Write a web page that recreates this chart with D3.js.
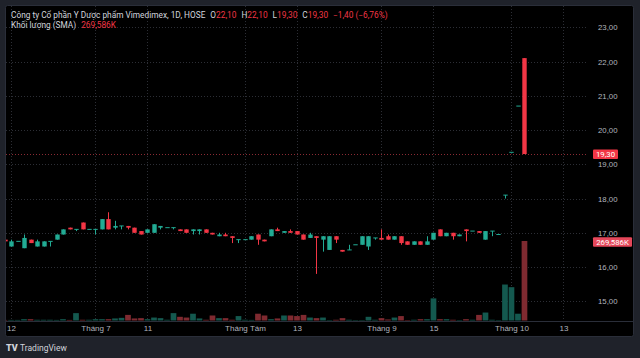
<!DOCTYPE html>
<html>
<head>
<meta charset="utf-8">
<script src="https://cdn.jsdelivr.net/npm/d3@7"></script>
<style>
html, body { margin: 0; padding: 0; background: #1f222a; }
svg { display: block; font-family: Roboto, "Liberation Sans", sans-serif; }
</style>
</head>
<body>
<div id="chart-area"></div>
<script>
// daily candles, first entry is the day before the "12" tick (index -1)
const openP  = [16.8, 16.6, 16.75, 16.55, 16.8, 16.6, 16.6, 16.75, 16.8, 16.95, 17.15, 17.1, 17.3, 17.1, 17.1, 17.1, 17.4, 17.15, 17.2, 17.2, 17.15, 17.05, 17.0, 17.0, 17.15, 17.15, 17.15, 17.1, 17.1, 17.05, 17.05, 17.1, 17.0, 16.9, 16.95, 16.9, 16.8, 16.8, 16.8, 16.95, 16.8, 16.9, 17.1, 17.0, 17.05, 17.05, 16.95, 16.85, 16.9, 16.8, 16.5, 16.9, 16.5, 16.5, 16.65, 16.65, 16.6, 16.85, 16.85, 16.9, 16.8, 16.9, 16.75, 16.65, 16.75, 16.65, 16.8, 17.1, 16.9, 17.0, 16.9, 17.1, 17.05, 17.05, 16.8, 17.05, 16.95, 18.1, 19.35, 20.7, 22.1];
const highP  = [16.8, 16.8, 16.75, 16.95, 16.8, 16.8, 16.75, 16.75, 16.95, 17.1, 17.15, 17.1, 17.3, 17.1, 17.1, 17.4, 17.6, 17.35, 17.2, 17.2, 17.15, 17.05, 17.1, 17.25, 17.2, 17.15, 17.15, 17.1, 17.1, 17.1, 17.1, 17.1, 17.0, 17.0, 17.0, 16.9, 16.8, 16.8, 16.9, 16.95, 16.8, 17.1, 17.15, 17.05, 17.1, 17.05, 16.95, 17.0, 16.9, 16.9, 16.9, 16.9, 16.5, 16.65, 16.65, 16.9, 16.9, 16.85, 17.1, 16.95, 16.9, 16.9, 16.75, 16.75, 16.75, 16.9, 17.0, 17.1, 17.0, 17.0, 16.95, 17.1, 17.05, 17.05, 17.05, 17.05, 16.95, 18.1, 19.35, 20.7, 22.1];
const lowP   = [16.75, 16.6, 16.75, 16.55, 16.7, 16.6, 16.6, 16.6, 16.8, 16.95, 17.1, 17.05, 17.1, 17.1, 16.95, 17.1, 17.1, 17.1, 17.1, 17.1, 17.0, 16.95, 17.0, 17.0, 17.1, 17.15, 17.1, 17.05, 17.0, 16.95, 16.95, 17.0, 16.95, 16.9, 16.9, 16.7, 16.7, 16.8, 16.8, 16.65, 16.75, 16.9, 17.05, 17.0, 17.0, 16.95, 16.8, 16.85, 15.8, 16.45, 16.5, 16.7, 16.45, 16.5, 16.65, 16.65, 16.5, 16.8, 16.8, 16.8, 16.8, 16.65, 16.65, 16.65, 16.65, 16.65, 16.8, 16.9, 16.9, 16.8, 16.9, 16.75, 17.05, 17.0, 16.8, 16.9, 16.95, 18.0, 19.35, 20.7, 19.3];
const closeP = [16.75, 16.75, 16.75, 16.85, 16.7, 16.75, 16.75, 16.75, 16.95, 17.1, 17.1, 17.1, 17.1, 17.1, 17.1, 17.4, 17.1, 17.2, 17.2, 17.15, 17.0, 16.95, 17.1, 17.25, 17.2, 17.15, 17.15, 17.05, 17.0, 17.1, 17.1, 17.0, 16.95, 16.95, 16.9, 16.85, 16.8, 16.8, 16.9, 16.8, 16.75, 17.1, 17.05, 17.05, 17.0, 16.95, 16.8, 16.95, 16.85, 16.9, 16.9, 16.8, 16.45, 16.5, 16.65, 16.9, 16.9, 16.85, 16.8, 16.8, 16.9, 16.7, 16.65, 16.75, 16.65, 16.75, 17.0, 16.9, 17.0, 16.9, 16.95, 17.05, 17.05, 17.0, 17.05, 17.05, 16.95, 18.1, 19.35, 20.7, 19.3];
// volume in thousands of shares
const volumeK = [2, 2, 2, 4.5, 4.5, 2.5, 2.5, 2.5, 2, 4.5, 2, 25, 2.5, 2.5, 4.5, 4.5, 4.5, 7, 9, 19, 7, 8, 4.5, 10, 8, 2.5, 25, 12.5, 10, 23, 7, 2.5, 17, 8, 8, 2.5, 15, 2.5, 2, 23, 17, 4.5, 7, 17, 17, 15, 19, 10, 8, 10, 1.5, 2.5, 8, 2.5, 1.5, 1.5, 12.5, 2.5, 8, 3.5, 10, 15, 1.5, 2.5, 4.5, 4.5, 75, 4.5, 4.5, 2.5, 1.5, 4.5, 2.5, 19, 27, 2.5, 1.5, 122, 113, 23, 269.586];
const firstDay = -1;

// time axis ticks (trading-day index) and price ticks
const tickDays = [0, 13, 21, 36, 44, 57, 65, 77, 85];
const tickLabels = ["12", "Tháng 7", "11", "Tháng Tám", "13", "Tháng 9", "15", "Tháng 10", "13"];
const priceTicks = [15, 16, 17, 18, 19, 20, 21, 22, 23];

const lastClose = 19.3;
const lastVolume = "269,586K";

const W = 640, H = 358;
const pane = { left: 6, right: 587, top: 6, bottom: 321 };
const frame = { right: 633, bottom: 336 };

const upColor = "#22ab94", downColor = "#f23645";
const upVol = "#14594f", downVol = "#7f2a30";
const textColor = "#b2b5be", gridColor = "#2c2e35";

const candles = openP.map(function(o, k) {
    return { day: k + firstDay, o: o, h: highP[k], l: lowP[k], c: closeP[k], v: volumeK[k] };
});

const svg = d3.select("#chart-area")
    .append("svg")
    .attr("width", W)
    .attr("height", H);

svg.append("rect").attr("width", W).attr("height", H).attr("fill", "#1f222a");

// black chart frame
svg.append("rect")
    .attr("x", pane.left - 0.5)
    .attr("y", pane.top - 0.5)
    .attr("width", frame.right - pane.left + 1)
    .attr("height", frame.bottom - pane.top + 1)
    .attr("rx", 2)
    .attr("fill", "#000")
    .attr("stroke", "#2a2e39");

// Scales
const x = d3.scaleLinear()
    .domain([-0.77, 88.62])
    .range([pane.left, pane.right]);

const y = d3.scaleLinear()
    .domain([15, 23])
    .range([301.3, 27.3]);

const yVol = d3.scaleLinear()
    .domain([0, d3.max(volumeK)])
    .range([pane.bottom - 0.5, 241]);

svg.append("clipPath").attr("id", "clip")
    .append("rect")
    .attr("x", pane.left).attr("y", pane.top)
    .attr("width", pane.right - pane.left).attr("height", pane.bottom - pane.top);

// Grid
const grid = svg.append("g").attr("stroke", gridColor).attr("stroke-dasharray", "1,2");
grid.selectAll(".hg").data(priceTicks).enter().append("line")
    .attr("x1", pane.left).attr("x2", pane.right)
    .attr("y1", d => Math.round(y(d)) + 0.5).attr("y2", d => Math.round(y(d)) + 0.5);
grid.selectAll(".vg").data(tickDays).enter().append("line")
    .attr("x1", d => Math.round(x(d)) + 0.5).attr("x2", d => Math.round(x(d)) + 0.5)
    .attr("y1", pane.top).attr("y2", pane.bottom);

// time axis separator
svg.append("line")
    .attr("x1", pane.left).attr("x2", frame.right)
    .attr("y1", pane.bottom + 0.5).attr("y2", pane.bottom + 0.5)
    .attr("stroke", "#2a2e39");

const plot = svg.append("g").attr("clip-path", "url(#clip)");

// Volume bars
plot.selectAll(".vol").data(candles).enter().append("rect")
    .attr("x", d => x(d.day) - 2.85)
    .attr("width", 5.7)
    .attr("y", d => yVol(d.v))
    .attr("height", d => yVol(0) - yVol(d.v))
    .attr("fill", d => d.c >= d.o ? upVol : downVol);

// last price line
plot.append("line")
    .attr("x1", pane.left).attr("x2", pane.right)
    .attr("y1", Math.round(y(lastClose)) + 0.5).attr("y2", Math.round(y(lastClose)) + 0.5)
    .attr("stroke", "#8a2a33")
    .attr("stroke-dasharray", "1,2");

// Candles
const cg = plot.selectAll(".candle").data(candles).enter().append("g");
cg.append("line")
    .attr("x1", d => Math.round(x(d.day)) + 0.5)
    .attr("x2", d => Math.round(x(d.day)) + 0.5)
    .attr("y1", d => y(d.h))
    .attr("y2", d => y(d.l))
    .attr("stroke", d => d.c >= d.o ? upColor : downColor);
cg.append("rect")
    .attr("x", d => Math.round(x(d.day)) + 0.5 - 2.2)
    .attr("width", 4.4)
    .attr("y", d => Math.min(y(d.o), y(d.c)) - (d.o === d.c ? 0.5 : 0))
    .attr("height", d => Math.max(1, Math.abs(y(d.o) - y(d.c))))
    .attr("fill", d => d.c >= d.o ? upColor : downColor);

// Price axis
const yAxis = svg.append("g")
    .attr("transform", "translate(" + pane.right + ",0)")
    .call(d3.axisRight(y)
        .tickValues(priceTicks)
        .tickSize(0)
        .tickPadding(11)
        .tickFormat(d => d.toFixed(2).replace(".", ",")));
yAxis.select(".domain").remove();
yAxis.selectAll("text").attr("fill", textColor).attr("font-size", "7.8px").attr("font-family", null);

// Time axis
const xAxis = svg.append("g")
    .attr("transform", "translate(0," + (pane.bottom + 2) + ")")
    .call(d3.axisBottom(x)
        .tickValues(tickDays)
        .tickSize(0)
        .tickPadding(2)
        .tickFormat((d, i) => tickLabels[i]));
xAxis.select(".domain").remove();
xAxis.selectAll("text").attr("fill", textColor).attr("font-size", "8px").attr("font-family", null);

// last price / volume labels on the axis
function axisLabel(yPos, w, txt, color) {
    svg.append("rect")
        .attr("x", 593).attr("y", yPos - 4.5)
        .attr("width", w).attr("height", 9.5)
        .attr("rx", 1)
        .attr("fill", color);
    svg.append("text")
        .attr("x", 593 + w / 2).attr("y", yPos + 2.8)
        .attr("text-anchor", "middle")
        .attr("fill", "#fff")
        .attr("font-size", "7.8px")
        .text(txt);
}
axisLabel(y(lastClose), 25, lastClose.toFixed(2).replace(".", ","), "#f23645");
axisLabel(yVol(d3.max(volumeK)) + 0.7, 39, lastVolume, "#e5475a");

// Legend
const last = candles[candles.length - 1];
const prev = candles[candles.length - 2];
const chg = last.c - prev.c;
const fmt = v => v.toFixed(2).replace(".", ",").replace("-", "\u2212");

const head = svg.append("text")
    .attr("x", 11).attr("y", 17.8)
    .attr("font-size", "8.3px")
    .attr("fill", "#d1d4dc");
head.append("tspan").text("Công ty Cổ phần Y Dược phẩm Vimedimex, 1D, HOSE");
[["O", last.o], ["H", last.h], ["L", last.l], ["C", last.c]].forEach(function(p) {
    head.append("tspan").attr("dx", 5).text(p[0]);
    head.append("tspan").attr("fill", downColor).text(fmt(p[1]));
});
head.append("tspan").attr("dx", 5).attr("fill", downColor)
    .text(fmt(chg) + " (" + fmt(chg / prev.c * 100) + "%)");

const vhead = svg.append("text")
    .attr("x", 11).attr("y", 27.8)
    .attr("font-size", "8.3px")
    .attr("fill", "#d1d4dc");
vhead.append("tspan").text("Khối lượng (SMA)");
vhead.append("tspan").attr("dx", 5).attr("fill", downColor).text(lastVolume);

// TradingView mark
const logo = svg.append("g").attr("fill", "#d1d4dc");
logo.append("text")
    .attr("x", 6).attr("y", 350.5)
    .attr("font-size", "9px")
    .attr("font-weight", 900)
    .text("TV");
logo.append("text")
    .attr("x", 20).attr("y", 350.5)
    .attr("font-size", "8.5px")
    .text("TradingView");
</script>
</body>
</html>
